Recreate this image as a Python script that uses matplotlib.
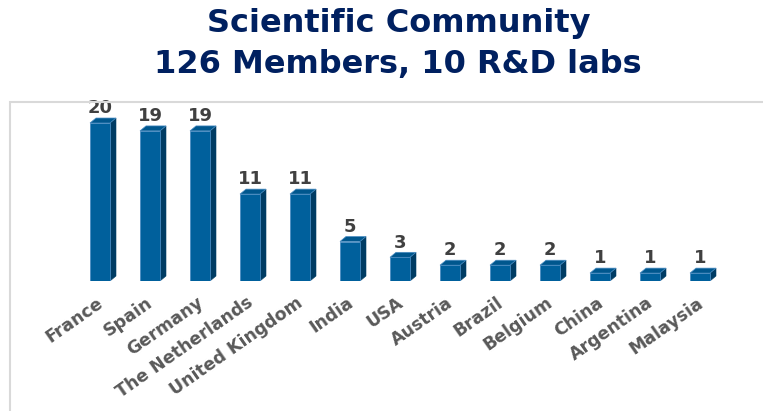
import matplotlib.pyplot as plt
from matplotlib.patches import Polygon, Rectangle

# donnees
pays = ['France', 'Spain', 'Germany', 'The Netherlands', 'United Kingdom', 'India',
        'USA', 'Austria', 'Brazil', 'Belgium', 'China', 'Argentina', 'Malaysia']
membres = [20, 19, 19, 11, 11, 5, 3, 2, 2, 2, 1, 1, 1]

W, H = 763, 411
fig = plt.figure(figsize=(W / 100, H / 100), dpi=100)

# cadre gris clair
fig.patches.append(Rectangle((10 / W, -0.1), 1.2, (411 - 102) / H + 0.1,
                             transform=fig.transFigure, fill=False,
                             edgecolor='#D9D9D9', lw=1.5))

ax = fig.add_axes([10 / W, (H - 281) / H, (W - 10) / W, (281 - 102) / H])
ax.set_xlim(-1.8, 13.26)
ax.set_ylim(0, (281 - 102) / 7.9)
ax.axis('off')

largeur = 0.4
dx, dy = 0.12, 0.63
x = list(range(len(pays)))

ax.bar(x, membres, width=largeur, color='#00609C', edgecolor='#4A8CC2', lw=0.6, zorder=3)
for xi, v in zip(x, membres):
    g, d = xi - largeur / 2, xi + largeur / 2
    cote = Polygon([(d, 0), (d + dx, dy), (d + dx, v + dy), (d, v)],
                   closed=True, facecolor='#003C64', edgecolor='#003C64', lw=0.4, zorder=2)
    dessus = Polygon([(g, v), (g + dx, v + dy), (d + dx, v + dy), (d, v)],
                     closed=True, facecolor='#00578E', edgecolor='#4A8CC2', lw=0.5, zorder=4)
    ax.add_patch(cote)
    ax.add_patch(dessus)
    ax.text(xi, v + dy + 0.1, str(v), ha='center', va='bottom', fontsize=13,
            fontweight='bold', color='#404040')
    ax.annotate(pays[xi], (xi - 0.08, 0), xytext=(0, -9), textcoords='offset points',
                rotation=35, rotation_mode='anchor', ha='right', va='top',
                fontsize=12.5, fontweight='bold', color='#595959', annotation_clip=False)

fig.text(0.522, (H - 32) / H, 'Scientific Community', ha='center', va='baseline',
         fontsize=23, fontweight='bold', color='#002060')
fig.text(0.522, (H - 73) / H, '126 Members, 10 R&D labs', ha='center', va='baseline',
         fontsize=23, fontweight='bold', color='#002060')

plt.savefig('out.png', dpi=100)
